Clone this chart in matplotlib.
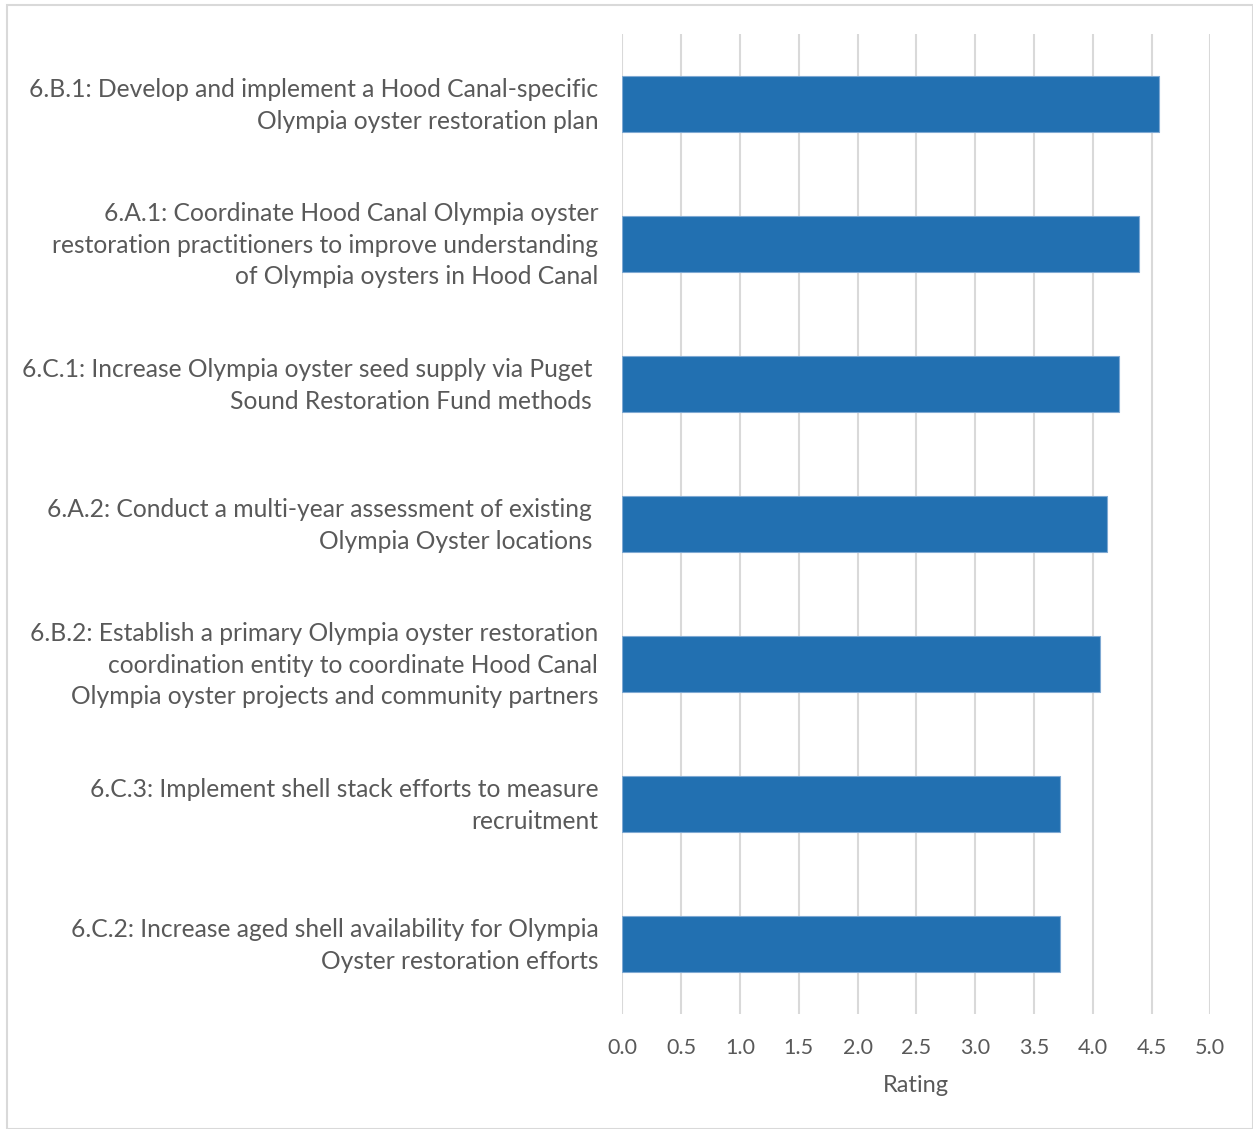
import matplotlib
matplotlib.use("Agg")
import matplotlib.pyplot as plt
from matplotlib.patches import Rectangle
from matplotlib.transforms import blended_transform_factory, ScaledTranslation

labels = [
    "6.B.1: Develop and implement a Hood Canal-specific\nOlympia oyster restoration plan",
    "6.A.1: Coordinate Hood Canal Olympia oyster\nrestoration practitioners to improve understanding\nof Olympia oysters in Hood Canal",
    "6.C.1: Increase Olympia oyster seed supply via Puget \nSound Restoration Fund methods ",
    "6.A.2: Conduct a multi-year assessment of existing \nOlympia Oyster locations ",
    "6.B.2: Establish a primary Olympia oyster restoration\ncoordination entity to coordinate Hood Canal\nOlympia oyster projects and community partners",
    "6.C.3: Implement shell stack efforts to measure\nrecruitment",
    "6.C.2: Increase aged shell availability for Olympia\nOyster restoration efforts",
]
ratings = [4.56, 4.39, 4.22, 4.12, 4.06, 3.72, 3.72]
xticks = [0.0, 0.5, 1.0, 1.5, 2.0, 2.5, 3.0, 3.5, 4.0, 4.5, 5.0]

plt.rcParams['font.family'] = ['Lato', 'DejaVu Sans']
W, H = 1253, 1129
fig = plt.figure(figsize=(W / 100, H / 100), dpi=100)
ax = fig.add_axes([622.3 / W, 1 - 1014.3 / H, (1210.3 - 622.3) / W, (1014.3 - 34.3) / H])

text_color = '#595959'
y = list(range(len(labels)))
ax.barh(y, ratings, height=0.4, color='#2270B1', edgecolor='#7fa9d3', linewidth=0.8, zorder=3)
ax.set_ylim(len(labels) - 0.5, -0.5)
ax.set_xlim(0, 5.0)
ax.set_xticks(xticks)
ax.set_xticklabels([f"{v:.1f}" for v in xticks], color=text_color, fontsize=15.5)
ax.set_yticks(y)
ax.set_yticklabels([])
trans = blended_transform_factory(ax.transAxes, ax.transData) + \
    ScaledTranslation(-24 / 100, -1 / 100, fig.dpi_scale_trans)
for yi, lab in zip(y, labels):
    ax.text(0, yi, lab, transform=trans, ha='right', va='center', multialignment='right',
            color=text_color, fontsize=17.7, linespacing=1.45)
ax.tick_params(axis='y', length=0)
ax.tick_params(axis='x', length=0, pad=17)
ax.grid(axis='x', color='#d9d9d9', linewidth=1.5, zorder=0)
for s in ax.spines.values():
    s.set_visible(False)
ax.set_xlabel("Rating", color=text_color, fontsize=17, labelpad=12)

fig.patches.append(Rectangle((7 / W, 0), 1 - 7 / W, 1 - 5 / H, transform=fig.transFigure,
                             fill=False, edgecolor='#d9d9d9', linewidth=1.5))

fig.savefig("out.png", dpi=100)
